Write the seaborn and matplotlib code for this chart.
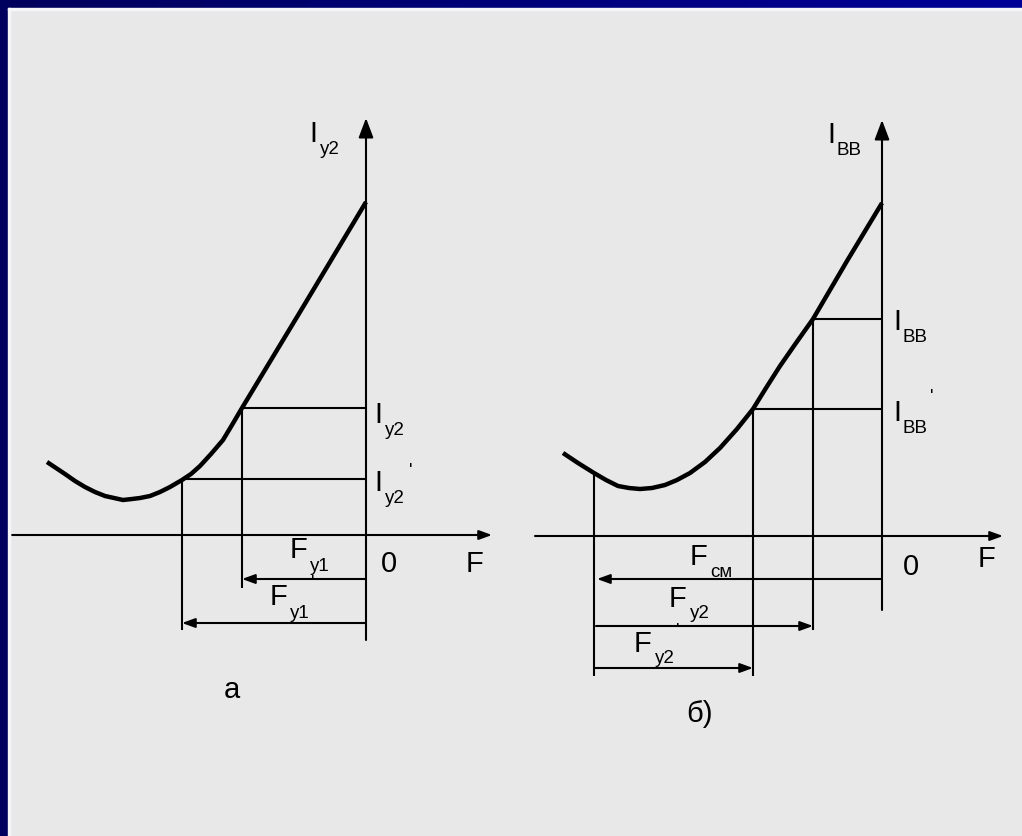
import numpy as np
import matplotlib
matplotlib.use("Agg")
import matplotlib.pyplot as plt
from matplotlib.patches import Rectangle
from matplotlib.colors import LinearSegmentedColormap
import seaborn as sns

# ---- panel а: I_у2 as a function of F ----
a_curve_F = [-319, -310, -301, -291, -281, -271, -261, -252, -243, -234, -226,
             -216, -206, -196, -184, -175, -166, -155, -143, -134, -124, -95, -66, -33, 0]
a_curve_I = [73, 67, 61, 54, 48, 43, 39, 37, 35, 36, 37,
             39, 43, 48, 55, 61, 69, 81, 95, 110, 127, 175, 223, 278, 333]
a_op_F = [-124, -184]        # F_у1, F_у1'
a_op_I = [127, 56]           # I_у2, I_у2'
a_axis_F = [-354, 126]
a_axis_I = [-105, 417]
a_drop_I = [-53, -95]        # lower ends of the projection lines
a_dim_I = [-44, -88]         # levels of the F dimension arrows

# ---- panel б: I_вв as a function of F ----
b_curve_F = [-319, -304, -288, -276, -264, -253, -242, -230, -217, -205, -192,
             -177, -162, -145, -129, -116, -102, -86, -69, -35, 0]
b_curve_I = [83, 73, 63, 56, 50, 48, 47, 48, 51, 56, 63,
             74, 88, 107, 127, 148, 170, 193, 217, 275, 333]
b_op_F = [-69, -129]         # F_у2', F_у2
b_op_I = [217, 127]          # I_вв, I_вв'
b_bias_F = -288              # F_см
b_bias_I = 63
b_axis_F = [-347, 121]
b_axis_I = [-74, 416]

INK = "black"
BG = "#e8e8e8"
FONT = ["Liberation Sans", "DejaVu Sans"]
BIG = 21
SMALL = 13.5

sns.set_theme(style="white")
plt.rcParams["font.family"] = FONT

fig = plt.figure(figsize=(10.22, 8.36), dpi=100, facecolor=BG)
W, H = 1022, 836


def panel_axes(ox, oy):
    ax = fig.add_axes([0, 0, 1, 1])
    ax.set_xlim(-ox, W - ox)
    ax.set_ylim(-(H - oy), oy)
    ax.axis("off")
    ax.patch.set_alpha(0)
    return ax


def seg(ax, xs, ys, lw=1.5):
    ax.plot(xs, ys, color=INK, lw=lw, solid_capstyle="butt")


def arrow(ax, tail, tip, hl=0.55, hw=0.2, lw=1.5):
    ax.annotate("", xy=tip, xytext=tail,
                arrowprops=dict(arrowstyle=f"-|>,head_length={hl},head_width={hw}",
                                color=INK, lw=lw, mutation_scale=14,
                                shrinkA=0, shrinkB=0))


def txt(ax, x, y, s, size=BIG, **kw):
    ax.text(x, y, s, fontsize=size, color=INK, ha=kw.pop("ha", "left"),
            va=kw.pop("va", "baseline"), **kw)


def curve(ax, F, I):
    sns.lineplot(x=F, y=I, sort=False, color=INK, linewidth=3.2, ax=ax,
                 solid_joinstyle="round", solid_capstyle="butt")


# ================= panel а =================
ax = panel_axes(366, 535)
arrow(ax, (a_axis_F[0], 0), (a_axis_F[1], 0))
arrow(ax, (0, a_axis_I[0]), (0, a_axis_I[1]), hl=0.85, hw=0.32)
curve(ax, a_curve_F, a_curve_I)
for F, I, lo, lvl in zip(a_op_F, a_op_I, a_drop_I, a_dim_I):
    seg(ax, [F, 0], [I, I])
    seg(ax, [F, F], [I, lo])
    arrow(ax, (0, lvl), (F, lvl))

txt(ax, -57, 393, "I")
txt(ax, -46, 381, "у2", SMALL)
txt(ax, 8, 112, "I")
txt(ax, 19, 100, "у2", SMALL)
txt(ax, 8, 44, "I")
txt(ax, 19, 32, "у2", SMALL)
txt(ax, 43, 72, "'", SMALL, va="top")
txt(ax, -76, -23, "F")
txt(ax, -56, -36, "у1", SMALL)
txt(ax, -55, -40, "'", SMALL, va="top")
txt(ax, -96, -70, "F")
txt(ax, -76, -83, "у1", SMALL)
txt(ax, 15, -37, "0")
txt(ax, 100, -37, "F")
txt(ax, -134, -163, "а", ha="center")

# ================= panel б =================
bx = panel_axes(882, 536)
arrow(bx, (b_axis_F[0], 0), (b_axis_F[1], 0))
arrow(bx, (0, b_axis_I[0]), (0, b_axis_I[1]), hl=0.85, hw=0.32)
curve(bx, b_curve_F, b_curve_I)

for F, I in zip(b_op_F, b_op_I):
    seg(bx, [F, 0], [I, I])
seg(bx, [b_op_F[0], b_op_F[0]], [b_op_I[0], -94])
seg(bx, [b_op_F[1], b_op_F[1]], [b_op_I[1], -140])
seg(bx, [b_bias_F, b_bias_F], [b_bias_I, -140])
arrow(bx, (0, -43), (b_bias_F + 3, -43))
arrow(bx, (b_bias_F + 2, -90), (b_op_F[0], -90))
arrow(bx, (b_bias_F, -132), (b_op_F[1], -132))

txt(bx, -55, 393, "I")
txt(bx, -46, 381, "ВВ", SMALL)
txt(bx, 11, 206, "I")
txt(bx, 20, 194, "ВВ", SMALL)
txt(bx, 11, 115, "I")
txt(bx, 20, 103, "ВВ", SMALL)
txt(bx, 48, 147, "'", SMALL, va="top")
txt(bx, -192, -29, "F")
txt(bx, -172, -41, "см", SMALL)
txt(bx, -213, -71, "F")
txt(bx, -192, -82, "у2", SMALL)
txt(bx, -206, -87, "'", SMALL, va="top")
txt(bx, -248, -116, "F")
txt(bx, -227, -127, "у2", SMALL)
txt(bx, 21, -39, "0")
txt(bx, 96, -31, "F")
txt(bx, -182, -186, "б)", ha="center")

# ---- slide frame: navy band along the top and left edges ----
band = 8
gax = fig.add_axes([0, 1 - band / H, 1, band / H])
grad = np.linspace(0, 1, 256).reshape(1, -1)
gax.imshow(grad, aspect="auto",
           cmap=LinearSegmentedColormap.from_list("navy", ["#00005c", "#000098"]))
gax.axis("off")
fig.add_artist(Rectangle((0, 0), band / W, 1, transform=fig.transFigure,
                         color="#00005e", zorder=5))
fig.add_artist(Rectangle((band / W, 0), 1.5 / W, 1 - band / H, transform=fig.transFigure,
                         color="#f6f6f8", zorder=5))
fig.add_artist(Rectangle((band / W, 1 - (band + 1.5) / H), 1, 1.5 / H,
                         transform=fig.transFigure, color="#f6f6f8", zorder=5))

fig.savefig("out.png", dpi=100, facecolor=BG)
